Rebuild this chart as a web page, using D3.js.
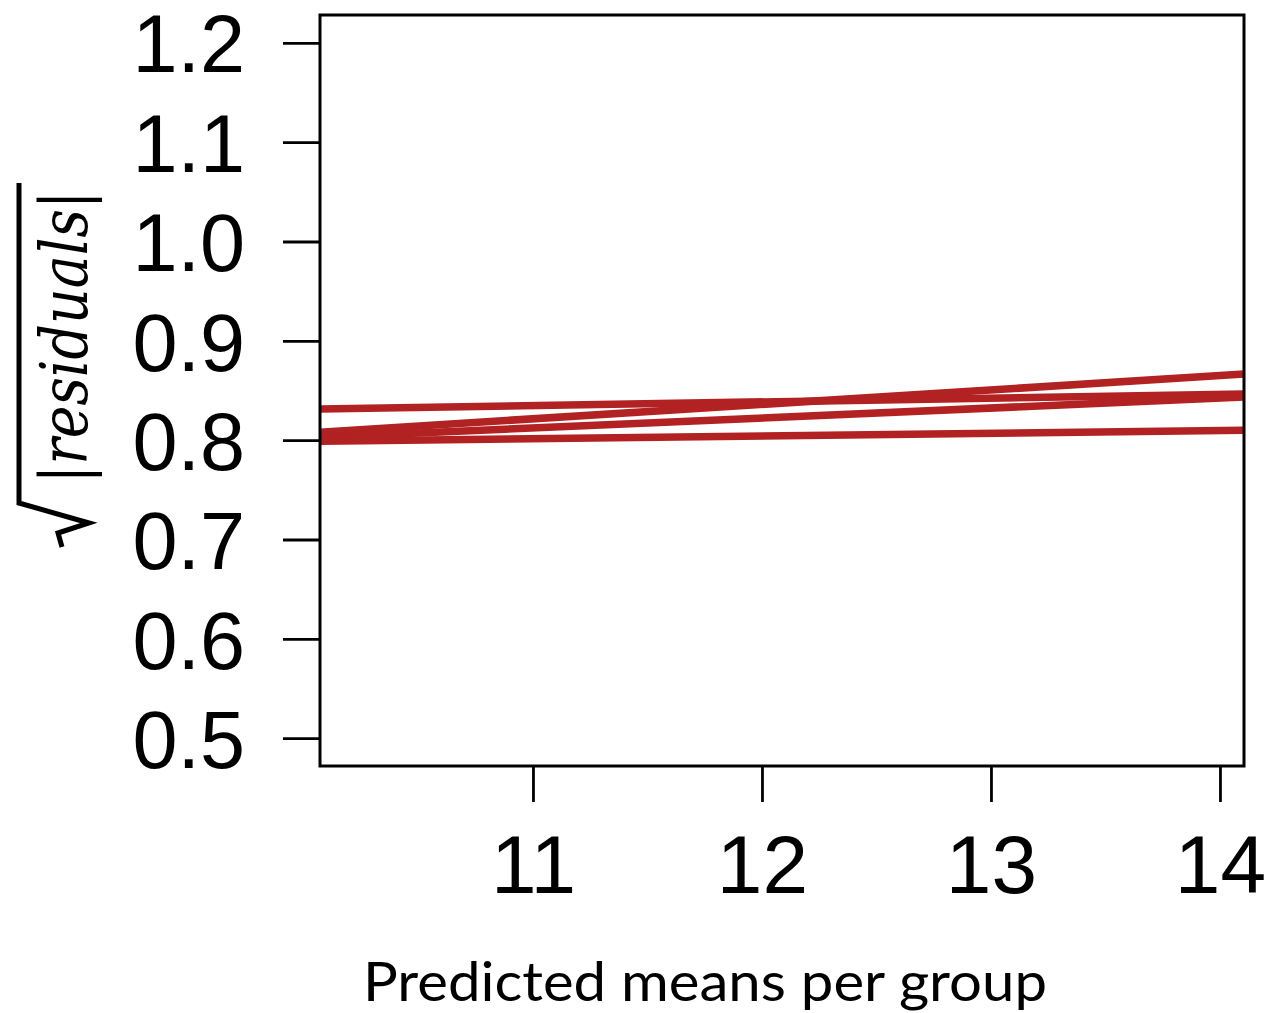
<!DOCTYPE html>
<html>
<head>
<meta charset="utf-8">
<script src="https://cdn.jsdelivr.net/npm/d3@7"></script>
<style>
  html, body { margin: 0; padding: 0; background: #fff; }
  svg { display: block; }
</style>
</head>
<body>
<svg id="chart" width="1270" height="1013"></svg>
<script>
// Fitted spread-location lines, one per group: value at the left and right plot limits
const xEnds = [10.07, 14.105];
const groupA = [0.8313, 0.8464];
const groupB = [0.8080, 0.8666];
const groupC = [0.8030, 0.8434];
const groupD = [0.7990, 0.8100];
const groups = [groupA, groupB, groupC, groupD];

const xTicks = [11, 12, 13, 14];
const yTicks = [0.5, 0.6, 0.7, 0.8, 0.9, 1.0, 1.1, 1.2];
const xTitle = "Predicted means per group";
const yTitle = "|residuals|";

const svg = d3.select("#chart");
const plot = { left: 320, right: 1244, top: 15, bottom: 766 };

const x = d3.scaleLinear().domain([10.07, 14.105]).range([plot.left, plot.right]);
const y = d3.scaleLinear().domain([0.472, 1.228]).range([plot.bottom, plot.top]);

svg.append("defs").append("clipPath").attr("id", "plotClip")
  .append("rect")
  .attr("x", plot.left).attr("y", plot.top)
  .attr("width", plot.right - plot.left).attr("height", plot.bottom - plot.top);

// lines
const line = d3.line().x(d => x(d[0])).y(d => y(d[1]));
svg.append("g").attr("clip-path", "url(#plotClip)")
  .selectAll("path").data(groups).join("path")
  .attr("d", g => line(xEnds.map((xv, i) => [xv, g[i]])))
  .attr("fill", "none")
  .attr("stroke", "#b22222")
  .attr("stroke-width", 7.5)
  .attr("stroke-linecap", "butt");

// y axis
const yAxis = d3.axisLeft(y).tickValues(yTicks).tickSize(37).tickPadding(38)
  .tickFormat(d3.format(".1f"));
const gy = svg.append("g").attr("transform", `translate(${plot.left},0)`).call(yAxis);
gy.select(".domain").remove();
gy.selectAll(".tick line").attr("stroke", "#000").attr("stroke-width", 2.8);
gy.selectAll(".tick text")
  .attr("font-family", "'Liberation Sans', Arial, sans-serif")
  .attr("font-size", 81).attr("fill", "#000")
  .attr("dy", "0.36em");

// x axis
const xAxis = d3.axisBottom(x).tickValues(xTicks).tickSize(36).tickPadding(0)
  .tickFormat(d3.format("d"));
const gx = svg.append("g").attr("transform", `translate(0,${plot.bottom})`).call(xAxis);
gx.select(".domain").remove();
gx.selectAll(".tick line").attr("stroke", "#000").attr("stroke-width", 2.8);
gx.selectAll(".tick text")
  .attr("font-family", "'Liberation Sans', Arial, sans-serif")
  .attr("font-size", 82).attr("fill", "#000")
  .attr("y", 127).attr("dy", 0);

// frame
svg.append("rect")
  .attr("x", plot.left).attr("y", plot.top)
  .attr("width", plot.right - plot.left).attr("height", plot.bottom - plot.top)
  .attr("fill", "none").attr("stroke", "#000").attr("stroke-width", 3);

// x title
svg.append("text")
  .attr("x", 705).attr("y", 1001)
  .attr("text-anchor", "middle")
  .attr("font-family", "Lato, 'Open Sans', sans-serif")
  .attr("font-size", 54)
  .attr("textLength", 684).attr("lengthAdjust", "spacingAndGlyphs")
  .attr("fill", "#000")
  .text(xTitle);

// y title: square root of |residuals|
const yt = svg.append("g").attr("transform", "translate(87,337) rotate(-90)");
yt.append("text")
  .attr("x", 0).attr("y", 0)
  .attr("text-anchor", "middle")
  .attr("font-family", "'DejaVu Serif', 'Liberation Serif', serif")
  .attr("font-style", "italic")
  .attr("font-size", 66)
  .attr("textLength", 293).attr("lengthAdjust", "spacingAndGlyphs")
  .attr("fill", "#000")
  .text(yTitle);
// radical sign with overbar (in rotated coordinates)
yt.append("path")
  .attr("d", "M -210 -25 L -196 -29 L -186 2 L -166 -68 L 154 -68")
  .attr("fill", "none").attr("stroke", "#000")
  .attr("stroke-width", 5).attr("stroke-linejoin", "miter");
</script>
</body>
</html>
